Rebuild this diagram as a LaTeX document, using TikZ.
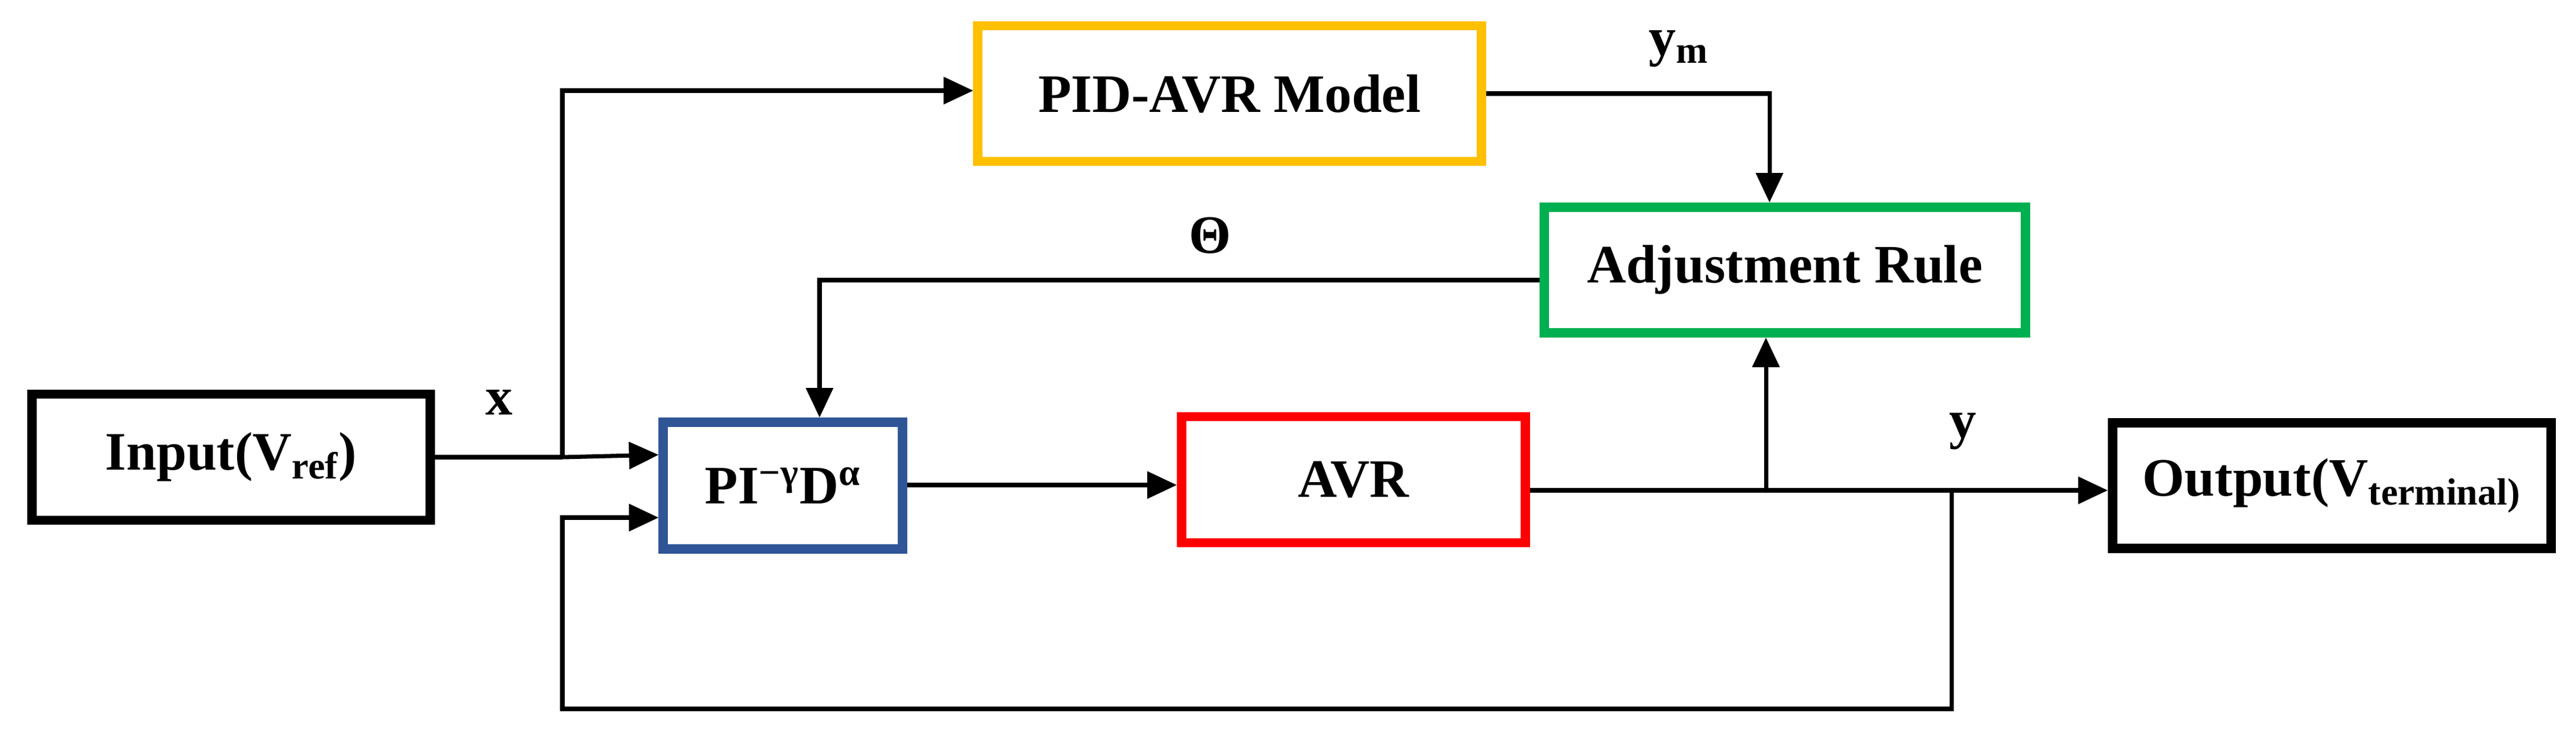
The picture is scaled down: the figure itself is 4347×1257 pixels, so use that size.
\documentclass[tikz,border=0pt]{standalone}
\usepackage{fontspec}
\setmainfont{Liberation Serif}
\usetikzlibrary{arrows.meta}
\definecolor{cy}{HTML}{FFC000}
\definecolor{cb}{HTML}{2F5597}
\definecolor{cr}{HTML}{FF0000}
\definecolor{cg}{HTML}{00B050}
\begin{document}
\begin{tikzpicture}[x=0.01cm,y=-0.01cm,
  box/.style={draw, line width=4.5pt, inner sep=0pt, font=\fontsize{26}{30}\selectfont\bfseries},
  lab/.style={font=\fontsize{26}{30}\selectfont\bfseries},
  con/.style={line width=2pt},
  arr/.style={con, -{Triangle[length=0.5cm,width=0.45cm]}}]
\useasboundingbox (0,0) rectangle (4347,1257);
\node[box, minimum width=6.71cm, minimum height=2.13cm] (in) at (390,772) {Input(V\textsubscript{ref})};
\node[box, cb, text=black, minimum width=4.03cm, minimum height=2.14cm] (pi) at (1321,820) {PI\textsuperscript{−γ}D\textsuperscript{α}};
\node[box, cr, text=black, minimum width=5.8cm, minimum height=2.13cm] (avr) at (2284,810) {AVR};
\node[box, minimum width=7.4cm, minimum height=2.12cm] (out) at (3935,820) {Output(V\textsubscript{terminal)}};
\node[box, cy, text=black, minimum width=8.49cm, minimum height=2.29cm] (pid) at (2075,158) {PID-AVR Model};
\node[box, cg, text=black, minimum width=8.11cm, minimum height=2.12cm] (adj) at (3012,456) {Adjustment Rule};

\coordinate (jx) at (949,772);
\coordinate (jy) at (2980,828);
\coordinate (jf) at (3293,828);
\draw[con] (in.east |- 0,772) -- (jx);
\draw[arr] (jx) -- (pi.west |- 0,768);
\draw[arr] (jx) -- (949,153) -- (pid.west |- 0,153);
\draw[arr] (pid.east |- 0,158) -- (2986,158) -- (adj.north -| 2986,0);
\draw[arr] (adj.west |- 0,473) -- (1383,473) -- (pi.north -| 1383,0);
\draw[arr] (pi.east |- 0,819) -- (avr.west |- 0,819);
\draw[arr] (avr.east |- 0,828) -- (out.west |- 0,828);
\draw[arr] (jy) -- (adj.south -| jy);
\draw[arr] (jf) -- (3293,1197) -- (949,1197) -- (949,874) -- (pi.west |- 0,874);

\node[lab] (lx) at (842,680) {x};
\node[lab] (lym) at (2833,82) {y\textsubscript{m}};
\node[lab] (lth) at (2042,398) {Θ};
\node[lab] (ly) at (3312,728) {y};
\end{tikzpicture}
\end{document}
